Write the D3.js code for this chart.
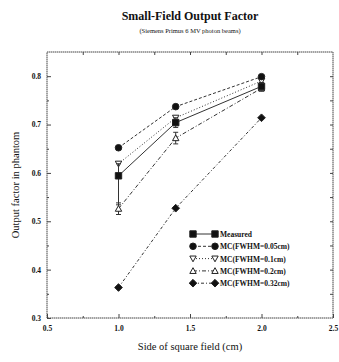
<!DOCTYPE html>
<html><head><meta charset="utf-8">
<script src="https://cdn.jsdelivr.net/npm/d3@7"></script>
<style>body{margin:0;background:#fff}svg{display:block}text{font-family:"Liberation Serif","DejaVu Serif",serif;fill:#111}</style>
</head><body><svg id="c" width="339" height="362"></svg>
<script>
const fieldSizes = [1.0, 1.4, 2.0];
const measured = [0.594, 0.704, 0.779];
const measuredErrUp = [0.025, 0.01, 0.008];
const measuredErrDown = [0.06, 0.01, 0.008];
const mc005 = [0.652, 0.737, 0.799];
const mc01 = [0.619, 0.714, 0.790];
const mc02 = [0.526, 0.672, 0.775];
const mc02ErrUp = [0.012, 0.012, 0.006];
const mc02ErrDown = [0.012, 0.012, 0.006];
const mc032 = [0.363, 0.527, 0.714];
const seriesNames = ["Measured","MC(FWHM=0.05cm)","MC(FWHM=0.1cm)","MC(FWHM=0.2cm)","MC(FWHM=0.32cm)"];
const xTicks = [0.5, 1.0, 1.5, 2.0, 2.5];
const yTicks = [0.3, 0.4, 0.5, 0.6, 0.7, 0.8];

const svg = d3.select("#c");
const m = {l:47, r:333, t:52, b:318};
const x = d3.scaleLinear().domain([0.5,2.5]).range([m.l,m.r]);
const y = d3.scaleLinear().domain([0.3,0.85]).range([m.b,m.t]);

const series = [
  {name:seriesNames[0], v:measured, eu:measuredErrUp, ed:measuredErrDown, sym:"square", fill:true, dash:null},
  {name:seriesNames[1], v:mc005, sym:"circle", fill:true, dash:"3,2"},
  {name:seriesNames[2], v:mc01, sym:"tridown", fill:false, dash:"1,2"},
  {name:seriesNames[3], v:mc02, eu:mc02ErrUp, ed:mc02ErrDown, sym:"triup", fill:false, dash:"4,2,1,2"},
  {name:seriesNames[4], v:mc032, sym:"diamond", fill:true, dash:"3,2,1,2"}
];

svg.append("rect").attr("x",m.l).attr("y",m.t).attr("width",m.r-m.l).attr("height",m.b-m.t)
  .attr("fill","none").attr("stroke","#444").attr("stroke-width",1).attr("stroke-dasharray","1.5,0.5");

const gx = svg.append("g").attr("transform",`translate(0,${m.b})`)
  .call(d3.axisBottom(x).tickValues(xTicks).tickSize(-4).tickPadding(8).tickFormat(d3.format(".1f")));
const gxt = svg.append("g").attr("transform",`translate(0,${m.t})`)
  .call(d3.axisTop(x).tickValues(d3.range(0.75,2.5,0.25)).tickSize(-3).tickFormat(""));
const gxm = svg.append("g").attr("transform",`translate(0,${m.b})`)
  .call(d3.axisBottom(x).tickValues([0.75,1.25,1.75,2.25]).tickSize(-2).tickFormat(""));
const gy = svg.append("g").attr("transform",`translate(${m.l},0)`)
  .call(d3.axisLeft(y).tickValues(yTicks).tickSize(-4).tickPadding(6).tickFormat(d3.format(".1f")));
const gym = svg.append("g").attr("transform",`translate(${m.l},0)`)
  .call(d3.axisLeft(y).tickValues([0.35,0.45,0.55,0.65,0.75]).tickSize(-2).tickFormat(""));
const gyr = svg.append("g").attr("transform",`translate(${m.r},0)`)
  .call(d3.axisRight(y).tickValues(d3.range(0.35,0.85,0.05)).tickSize(-3).tickFormat(""));
[gx,gxt,gxm,gy,gym,gyr].forEach(g=>{
  g.select(".domain").remove();
  g.selectAll("line").attr("stroke","#444");
  g.selectAll("text").attr("font-size",7.5).attr("font-weight","bold").attr("font-family","Liberation Serif, serif").attr("fill","#222");
});

svg.append("text").attr("x",190).attr("y",20).attr("text-anchor","middle").attr("font-size",12).attr("font-weight","bold").text("Small-Field Output Factor");
svg.append("text").attr("x",190).attr("y",33).attr("text-anchor","middle").attr("font-size",6.5).text("(Siemens Primus 6 MV photon beams)");
svg.append("text").attr("x",190).attr("y",350).attr("text-anchor","middle").attr("font-size",10.5).text("Side of square field (cm)");
svg.append("text").attr("transform","translate(19,185) rotate(-90)").attr("text-anchor","middle").attr("font-size",10.5).text("Output factor in phantom");

function symPath(sym){
  const s = 3.2;
  if(sym==="square") return `M${-s},${-s}H${s}V${s}H${-s}Z`;
  if(sym==="circle") return d3.symbol(d3.symbolCircle, 34)();
  if(sym==="diamond") return `M0,${-s*1.2}L${s*1.2},0L0,${s*1.2}L${-s*1.2},0Z`;
  if(sym==="triup") return `M0,${-s}L${s},${s*0.8}L${-s},${s*0.8}Z`;
  if(sym==="tridown") return `M0,${s}L${s},${-s*0.8}L${-s},${-s*0.8}Z`;
}

const line = d3.line().x((d,i)=>x(fieldSizes[i])).y(d=>y(d));
series.slice().reverse().forEach(s=>{
  const g = svg.append("g");
  g.append("path").datum(s.v).attr("d",line).attr("fill","none").attr("stroke","#333").attr("stroke-width",1)
    .attr("stroke-dasharray",s.dash);
  if(s.eu){
    s.v.forEach((v,i)=>{
      const lo = v - s.ed[i], hi = v + s.eu[i], cx = x(fieldSizes[i]);
      g.append("line").attr("x1",cx).attr("x2",cx).attr("y1",y(lo)).attr("y2",y(hi)).attr("stroke","#333").attr("stroke-width",1);
      [lo,hi].forEach(w=>g.append("line").attr("x1",cx-2.5).attr("x2",cx+2.5).attr("y1",y(w)).attr("y2",y(w)).attr("stroke","#333"));
    });
  }
  s.v.forEach((v,i)=>{
    g.append("path").attr("d",symPath(s.sym)).attr("transform",`translate(${x(fieldSizes[i])},${y(v)})`)
      .attr("fill",s.fill?"#111":"#fff").attr("stroke","#222").attr("stroke-width",1);
  });
});

const lg = svg.append("g");
series.forEach((s,i)=>{
  const ly = 234 + i*12.3;
  lg.append("line").attr("x1",193).attr("x2",215).attr("y1",ly).attr("y2",ly).attr("stroke","#333").attr("stroke-dasharray",s.dash);
  [193,215].forEach(lx=>lg.append("path").attr("d",symPath(s.sym)).attr("transform",`translate(${lx},${ly})`)
    .attr("fill",s.fill?"#111":"#fff").attr("stroke","#222"));
  lg.append("text").attr("x",220).attr("y",ly+3).attr("font-size",7.5).attr("font-weight","bold").text(s.name);
});
</script></body></html>
